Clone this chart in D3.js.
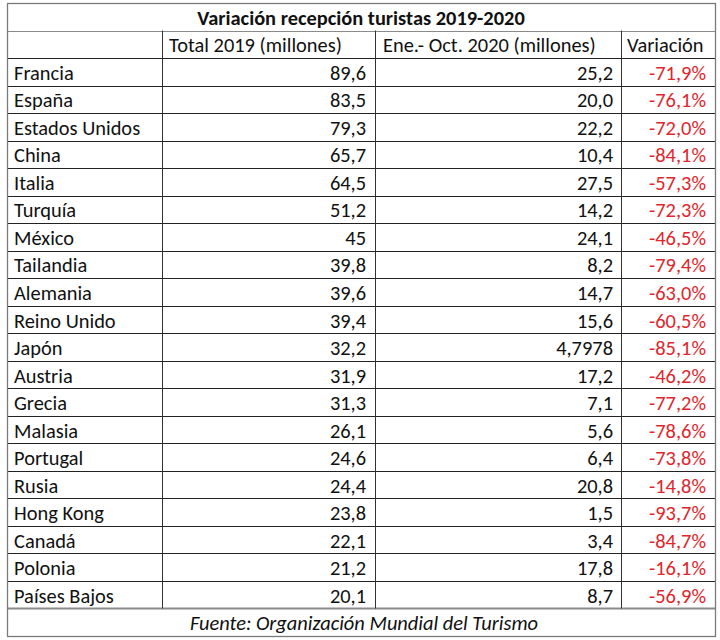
<!DOCTYPE html>
<html>
<head>
<meta charset="utf-8">
<script src="https://cdn.jsdelivr.net/npm/d3@7"></script>
<style>
  html, body { margin: 0; padding: 0; background: #fff; }
  svg { display: block; }
</style>
</head>
<body>
<svg id="chart" width="720" height="640"></svg>
<script>
const title = "Variación recepción turistas 2019-2020";
const headers = ["", "Total 2019 (millones)", "Ene.- Oct. 2020 (millones)", "Variación"];
const countries = ["Francia","España","Estados Unidos","China","Italia","Turquía","México","Tailandia","Alemania","Reino Unido","Japón","Austria","Grecia","Malasia","Portugal","Rusia","Hong Kong","Canadá","Polonia","Países Bajos"];
const total2019 = [89.6,83.5,79.3,65.7,64.5,51.2,45,39.8,39.6,39.4,32.2,31.9,31.3,26.1,24.6,24.4,23.8,22.1,21.2,20.1];
const eneOct2020 = [25.2,20.0,22.2,10.4,27.5,14.2,24.1,8.2,14.7,15.6,4.7978,17.2,7.1,5.6,6.4,20.8,1.5,3.4,17.8,8.7];
const variacion = [-71.9,-76.1,-72.0,-84.1,-57.3,-72.3,-46.5,-79.4,-63.0,-60.5,-85.1,-46.2,-77.2,-78.6,-73.8,-14.8,-93.7,-84.7,-16.1,-56.9];
const source = "Fuente: Organización Mundial del Turismo";

const svg = d3.select("#chart");
const W = 720, H = 640;
const FONT = "Carlito, Lato, 'Open Sans', sans-serif";

// fit font size so header text width matches the reference
const probe = svg.append("text").attr("font-family", FONT).attr("font-size", 20).text(headers[1]);
const pw = probe.node().getComputedTextLength();
probe.remove();
const fs = 20 * 173 / pw;

const rowKeys = ["__title", "__header", ...countries, "__footer"];
const y = d3.scaleBand().domain(rowKeys).range([3, 636]).padding(0);
const colEdges = [7, 162, 375, 621, 715];
const x = d3.scaleOrdinal().domain([0,1,2,3,4]).range(colEdges);

const fmtPlain = v => String(v).replace(".", ",");
const fmtOne = v => (Number.isInteger(v) ? v.toFixed(1) : String(v)).replace(".", ",");
const fmtPct = v => v.toFixed(1).replace(".", ",") + "%";

svg.append("rect").attr("x", 0).attr("y", 0).attr("width", W).attr("height", H).attr("fill", "#fff");

const g = svg.append("g");

// horizontal grid lines between data rows
const dataTop = y("__header") + y.bandwidth();
const lines = g.append("g");
rowKeys.forEach((k, i) => {
  if (i === 0) return;
  const yy = y(k);
  let stroke = "#222", sw = 1;
  if (k === "__header") { stroke = "#8a8a8a"; sw = 1.2; }
  if (k === "__footer") { stroke = "#8a8a8a"; sw = 1.8; }
  lines.append("line").attr("x1", colEdges[0]).attr("x2", colEdges[4])
    .attr("y1", Math.round(yy) + 0.5).attr("y2", Math.round(yy) + 0.5)
    .attr("stroke", stroke).attr("stroke-width", sw);
});
// vertical lines for columns (header + data)
[1, 2, 3].forEach(c => {
  lines.append("line").attr("x1", x(c) + 0.5).attr("x2", x(c) + 0.5)
    .attr("y1", y("__header")).attr("y2", y("__footer"))
    .attr("stroke", "#333").attr("stroke-width", 1);
});
// outer border
lines.append("rect").attr("x", colEdges[0] + 0.5).attr("y", 3.5)
  .attr("width", colEdges[4] - colEdges[0]).attr("height", 636 - 3)
  .attr("fill", "none").attr("stroke", "#7a7a7a").attr("stroke-width", 1.3);

const mid = k => y(k) + y.bandwidth() / 2 + 1;
const txt = g.append("g").attr("font-family", FONT).attr("font-size", fs).attr("fill", "#111");

// title
txt.append("text").attr("x", (colEdges[0] + colEdges[4]) / 2).attr("y", mid("__title"))
  .attr("text-anchor", "middle").attr("dominant-baseline", "central")
  .attr("font-weight", "bold").text(title);

// headers
const headerX = [0, x(1) + 7, x(2) + 8, x(3) + 6];
[1, 2, 3].forEach(c => {
  txt.append("text").attr("x", headerX[c]).attr("y", mid("__header"))
    .attr("dominant-baseline", "central").text(headers[c]);
});

// data rows
countries.forEach((c, i) => {
  const yy = mid(c);
  txt.append("text").attr("x", x(0) + 7).attr("y", yy).attr("dominant-baseline", "central").text(c);
  txt.append("text").attr("x", x(2) - 9).attr("y", yy).attr("text-anchor", "end")
    .attr("dominant-baseline", "central").text(fmtPlain(total2019[i]));
  txt.append("text").attr("x", x(3) - 8).attr("y", yy).attr("text-anchor", "end")
    .attr("dominant-baseline", "central").text(fmtOne(eneOct2020[i]));
  txt.append("text").attr("x", x(4) - 9).attr("y", yy).attr("text-anchor", "end")
    .attr("dominant-baseline", "central").attr("fill", "#e0262c").text(fmtPct(variacion[i]));
});

// footer
txt.append("text").attr("x", (colEdges[0] + colEdges[4]) / 2 + 3).attr("y", mid("__footer"))
  .attr("text-anchor", "middle").attr("dominant-baseline", "central")
  .attr("font-style", "italic").text(source);
</script>
</body>
</html>
